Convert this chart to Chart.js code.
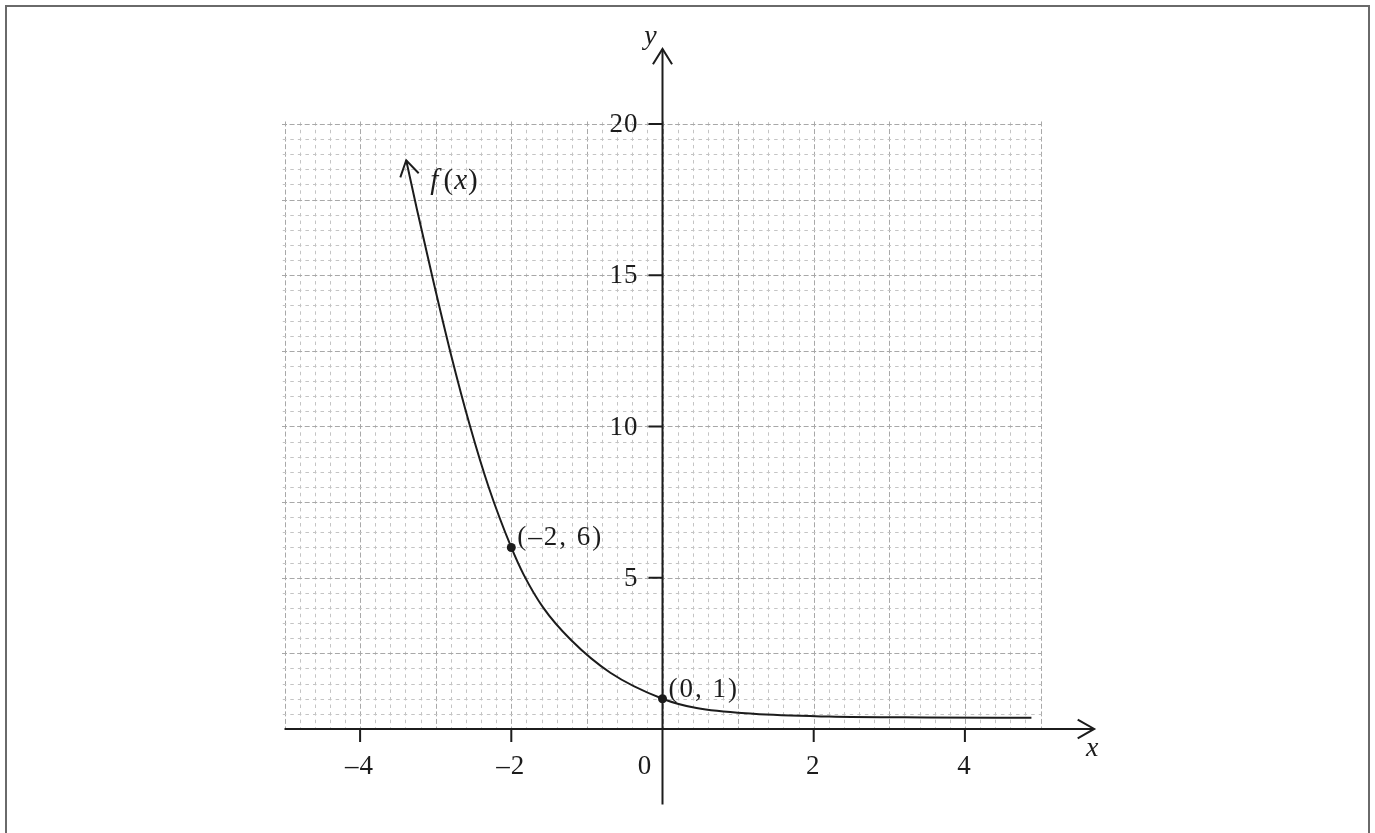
<!DOCTYPE html>
<html>
<head>
<meta charset="utf-8">
<script src="https://cdn.jsdelivr.net/npm/chart.js@4.4.1/dist/chart.umd.min.js"></script>
<style>
html,body{margin:0;padding:0;background:#fff;}
#wrap{width:1375px;height:833px;}
</style>
</head>
<body>
<div id="wrap"><canvas id="c" width="1375" height="833"></canvas></div>
<script>
// ---- data ----
const curveX = [-3.39, -3.25, -3.04, -2.80, -2.55, -2.30, -2.0, -1.84, -1.58, -1.21, -0.69, 0, 0.45, 1.2, 2.2, 3.5, 4.88];
const curveY = [18.8, 17.2, 14.9, 12.4, 10.05, 8.0, 6.0, 5.12, 4.02, 2.94, 1.86, 1.0, 0.69, 0.50, 0.41, 0.38, 0.37];
const markedX = [-2, 0];
const markedY = [6, 1];
const markedLabels = ['(–2, 6)', '(0, 1)'];
const xTickValues = [-4, -2, 0, 2, 4];
const xTickLabels = ['–4', '–2', '0', '2', '4'];
const yTickValues = [5, 10, 15, 20];
const yTickLabels = ['5', '10', '15', '20'];
const curveName = ['f', ' (', 'x', ')'];
const xAxisTitle = 'x';
const yAxisTitle = 'y';

// grid region and axis extents (data units)
const gridX = [-5, 5, 0.2, 1];     // from, to, minor step, major step
const gridY = [0, 20, 0.5, 2.5];
const axisX = [-5, 5.71];
const axisY = [-2.5, 22.48];

const INK = '#1c1c1c';
const SERIF = '"Liberation Serif", "Times New Roman", serif';

function spacedText(ctx, text, x, y, spacing, align) {
  const chars = Array.from(text);
  const widths = chars.map(c => ctx.measureText(c).width);
  const total = widths.reduce((a, b) => a + b, 0) + spacing * (chars.length - 1);
  let sx = align === 'center' ? x - total / 2 : (align === 'right' ? x - total : x);
  ctx.textAlign = 'left';
  chars.forEach((c, i) => { ctx.fillText(c, sx, y); sx += widths[i] + spacing; });
}

function chevron(ctx, tx, ty, ang, len, half) {
  ctx.beginPath();
  ctx.moveTo(tx + len * Math.cos(ang - half), ty + len * Math.sin(ang - half));
  ctx.lineTo(tx, ty);
  ctx.lineTo(tx + len * Math.cos(ang + half), ty + len * Math.sin(ang + half));
  ctx.stroke();
}

const backdrop = {
  id: 'backdrop',
  beforeDatasetsDraw(chart) {
    const ctx = chart.ctx, xs = chart.scales.x, ys = chart.scales.y;
    const X = v => xs.getPixelForValue(v), Y = v => ys.getPixelForValue(v);
    ctx.save();
    // frame
    ctx.strokeStyle = '#6a6a6a';
    ctx.lineWidth = 2;
    ctx.strokeRect(6, 6, 1363, 845);

    // grid
    ctx.lineWidth = 1;
    const nx = Math.round((gridX[1] - gridX[0]) / gridX[2]);
    const majX = Math.round(gridX[3] / gridX[2]);
    const periodV = (Y(gridY[0]) - Y(gridY[0] + gridY[2])) / 2;
    for (let i = 0; i <= nx; i++) {
      const v = gridX[0] + i * gridX[2];
      const px = Math.round(X(v)) + 0.5;
      const major = i % majX === 0;
      const d = major ? 5 : 3.5;
      ctx.strokeStyle = major ? '#a8a8a8' : '#c4c4c4';
      ctx.setLineDash([d, periodV - d]);
      ctx.beginPath();
      ctx.moveTo(px, Y(gridY[1]) - d / 2);
      ctx.lineTo(px, Y(gridY[0]));
      ctx.stroke();
    }
    const ny = Math.round((gridY[1] - gridY[0]) / gridY[2]);
    const majY = Math.round(gridY[3] / gridY[2]);
    const periodH = (X(gridX[0] + gridX[2]) - X(gridX[0])) / 2;
    for (let j = 1; j <= ny; j++) {
      const v = gridY[0] + j * gridY[2];
      const py = Math.round(Y(v)) + 0.5;
      const major = j % majY === 0;
      const d = major ? 5 : 3.5;
      ctx.strokeStyle = major ? '#a8a8a8' : '#c4c4c4';
      ctx.setLineDash([d, periodH - d]);
      ctx.beginPath();
      ctx.moveTo(X(gridX[0]) - d / 2, py);
      ctx.lineTo(X(gridX[1]) + 1, py);
      ctx.stroke();
    }
    ctx.setLineDash([]);

    // axes
    const ox = X(0), oy = Y(0);
    ctx.strokeStyle = INK;
    ctx.lineWidth = 2;
    ctx.beginPath();
    ctx.moveTo(X(axisX[0]), oy); ctx.lineTo(X(axisX[1]), oy);
    ctx.moveTo(ox, Y(axisY[0])); ctx.lineTo(ox, Y(axisY[1]));
    ctx.stroke();
    chevron(ctx, X(axisX[1]), oy, Math.PI, 19, 0.52);
    chevron(ctx, ox, Y(axisY[1]), Math.PI / 2, 18, 0.56);

    // ticks
    ctx.beginPath();
    xTickValues.forEach(v => { if (v !== 0) { ctx.moveTo(X(v), oy); ctx.lineTo(X(v), oy + 13); } });
    yTickValues.forEach(v => { ctx.moveTo(ox - 14, Y(v)); ctx.lineTo(ox, Y(v)); });
    ctx.stroke();

    // tick labels
    ctx.fillStyle = INK;
    ctx.font = '27px ' + SERIF;
    ctx.textBaseline = 'alphabetic';
    xTickValues.forEach((v, i) => {
      const cx = v === 0 ? X(v) - 18 : X(v) - 1;
      spacedText(ctx, xTickLabels[i], cx, oy + 45, 1, 'center');
    });
    ctx.textBaseline = 'middle';
    yTickValues.forEach((v, i) => {
      spacedText(ctx, yTickLabels[i], ox - 25, Y(v) + 1, 1, 'right');
    });

    // axis titles
    ctx.textBaseline = 'alphabetic';
    ctx.font = 'italic 28px ' + SERIF;
    ctx.textAlign = 'center';
    ctx.fillText(yAxisTitle, ox - 12, Y(axisY[1]) - 5);
    ctx.fillText(xAxisTitle, X(axisX[1]) - 2, oy + 27);
    ctx.restore();
  },
  afterDatasetsDraw(chart) {
    const ctx = chart.ctx, xs = chart.scales.x, ys = chart.scales.y;
    const X = v => xs.getPixelForValue(v), Y = v => ys.getPixelForValue(v);
    ctx.save();
    // arrow head at the start of the curve
    const tx = X(curveX[0]), ty = Y(curveY[0]);
    const ang = Math.atan2(Y(curveY[1]) - ty, X(curveX[1]) - tx);
    ctx.strokeStyle = INK;
    ctx.lineWidth = 2;
    chevron(ctx, tx, ty, ang, 18, 0.55);

    // curve name
    ctx.fillStyle = INK;
    ctx.textBaseline = 'alphabetic';
    ctx.textAlign = 'left';
    let sx = tx + 24;
    const by = ty + 29;
    curveName.forEach((part, i) => {
      ctx.font = (i % 2 === 0 ? 'italic ' : '') + '29px ' + SERIF;
      ctx.fillText(part, sx, by);
      sx += ctx.measureText(part).width + (i === 0 ? -2 : 1);
    });

    // point labels
    ctx.font = '27px ' + SERIF;
    markedX.forEach((v, i) => {
      spacedText(ctx, markedLabels[i], X(v) + 6, Y(markedY[i]) - 2, 2, 'left');
    });
    ctx.restore();
  }
};

const chart = new Chart(document.getElementById('c'), {
  type: 'scatter',
  data: {
    datasets: [
      {
        data: curveX.map((x, i) => ({ x: x, y: curveY[i] })),
        showLine: true,
        borderColor: INK,
        borderWidth: 2,
        pointRadius: 0,
        cubicInterpolationMode: 'monotone',
        fill: false
      },
      {
        data: markedX.map((x, i) => ({ x: x, y: markedY[i] })),
        showLine: false,
        pointRadius: 4.5,
        backgroundColor: INK,
        borderWidth: 0
      }
    ]
  },
  options: {
    responsive: false,
    animation: false,
    devicePixelRatio: 1,
    layout: { padding: { left: 284.5, right: 258.9, top: 33.25, bottom: 28.4 } },
    scales: {
      x: { type: 'linear', min: -5, max: 6, display: false },
      y: { type: 'linear', min: -2.5, max: 23, display: false }
    },
    plugins: { legend: { display: false }, tooltip: { enabled: false } }
  },
  plugins: [backdrop]
});
</script>
</body>
</html>
